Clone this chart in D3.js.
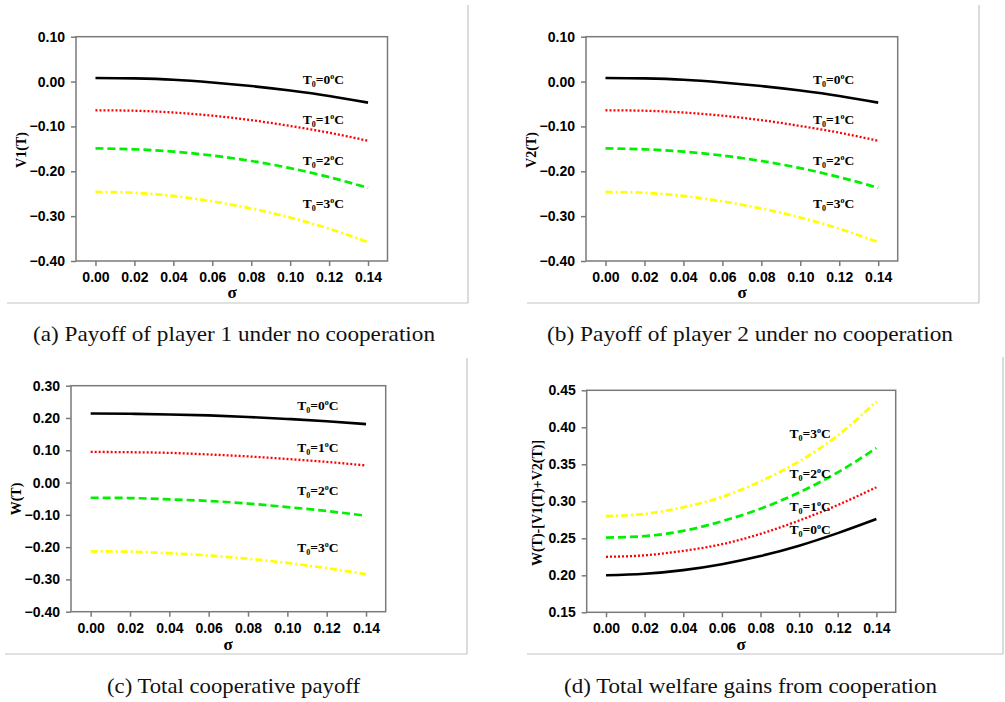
<!DOCTYPE html>
<html>
<head>
<meta charset="utf-8">
<script src="https://cdn.jsdelivr.net/npm/d3@7"></script>
<style>
  body { margin: 0; background: #fff; }
  svg { display: block; }
</style>
</head>
<body>
<div id="chart"></div>
<script>
// sigma values on the x axis
const sigma = [0, 0.02, 0.04, 0.06, 0.08, 0.10, 0.12, 0.14];
const xTicks = [0, 0.02, 0.04, 0.06, 0.08, 0.10, 0.12, 0.14];
const temps = ["0", "1", "2", "3"];

// (a) V1(T)
const v1T0 = [0.008, 0.007, 0.004, -0.002, -0.010, -0.020, -0.032, -0.047];
const v1T1 = [-0.064, -0.065, -0.069, -0.076, -0.086, -0.099, -0.114, -0.132];
const v1T2 = [-0.149, -0.151, -0.156, -0.165, -0.177, -0.193, -0.213, -0.237];
const v1T3 = [-0.246, -0.248, -0.255, -0.267, -0.283, -0.303, -0.328, -0.358];

// (b) V2(T)
const v2T0 = [0.008, 0.007, 0.004, -0.002, -0.010, -0.020, -0.032, -0.047];
const v2T1 = [-0.064, -0.065, -0.069, -0.076, -0.086, -0.099, -0.114, -0.132];
const v2T2 = [-0.149, -0.151, -0.156, -0.165, -0.177, -0.193, -0.213, -0.237];
const v2T3 = [-0.246, -0.248, -0.255, -0.267, -0.283, -0.303, -0.328, -0.358];

// (c) W(T)
const wT0 = [0.214, 0.213, 0.211, 0.208, 0.203, 0.197, 0.190, 0.181];
const wT1 = [0.095, 0.094, 0.092, 0.087, 0.081, 0.073, 0.064, 0.053];
const wT2 = [-0.047, -0.048, -0.052, -0.057, -0.065, -0.076, -0.088, -0.103];
const wT3 = [-0.213, -0.214, -0.219, -0.226, -0.236, -0.249, -0.265, -0.284];

// (d) W(T)-[V1(T)+V2(T)]
const gT0 = [0.200, 0.202, 0.207, 0.215, 0.226, 0.240, 0.257, 0.276];
const gT1 = [0.225, 0.227, 0.233, 0.242, 0.256, 0.274, 0.295, 0.319];
const gT2 = [0.251, 0.253, 0.260, 0.273, 0.290, 0.312, 0.339, 0.372];
const gT3 = [0.280, 0.283, 0.292, 0.306, 0.327, 0.354, 0.389, 0.435];

// y ticks
const yTicksV = [0.10, 0.00, -0.10, -0.20, -0.30, -0.40];
const yTicksW = [0.30, 0.20, 0.10, 0.00, -0.10, -0.20, -0.30, -0.40];
const yTicksG = [0.45, 0.40, 0.35, 0.30, 0.25, 0.20, 0.15];

// label anchors [sigma, value] for each T0 curve
const labelsV = [[0.1065, -0.005], [0.1065, -0.094], [0.1065, -0.187], [0.1065, -0.281]];
const labelsW = [[0.105, 0.225], [0.105, 0.096], [0.105, -0.038], [0.105, -0.214]];
const labelsG = [[0.095, 0.256], [0.095, 0.287], [0.095, 0.331], [0.095, 0.385]];

const captions = [
  "(a) Payoff of player 1 under no cooperation",
  "(b) Payoff of player 2 under no cooperation",
  "(c) Total cooperative payoff",
  "(d) Total welfare gains from cooperation"
];

// line styles per temperature
const lineStyles = [
  { color: "#000000", dash: null, width: 2.6 },
  { color: "#ff0000", dash: "2,2", width: 2.3 },
  { color: "#00f000", dash: "8,4", width: 2.7 },
  { color: "#ffff00", dash: "7,3,2,3", width: 2.7 }
];

const svg = d3.select("#chart").append("svg")
  .attr("width", 1005)
  .attr("height", 702);

const panels = [
  { series: [v1T0, v1T1, v1T2, v1T3], yTicks: yTicksV, labels: labelsV, yTitle: "V1(T)",
    box: { l: 76, r: 387.5, t: 36.7, b: 261 }, yTitlePos: [21, 150], sigmaPos: [232, 298],
    frame: { right: 468, top: 5, bottom: 303, left: 7 },
    caption: { x0: 33, x1: 435, y: 341 } },
  { series: [v2T0, v2T1, v2T2, v2T3], yTicks: yTicksV, labels: labelsV, yTitle: "V2(T)",
    box: { l: 586, r: 897.7, t: 36.7, b: 261 }, yTitlePos: [531, 150], sigmaPos: [742, 298],
    frame: { right: 979, top: 5, bottom: 303, left: 527 },
    caption: { x0: 547, x1: 953, y: 341 } },
  { series: [wT0, wT1, wT2, wT3], yTicks: yTicksW, labels: labelsW, yTitle: "W(T)",
    box: { l: 71, r: 385.7, t: 385.7, b: 611.7 }, yTitlePos: [16, 499], sigmaPos: [228, 650],
    frame: { right: 467, top: 358, bottom: 654, left: 5 },
    caption: { x0: 107, x1: 360, y: 693 } },
  { series: [gT0, gT1, gT2, gT3], yTicks: yTicksG, labels: labelsG, yTitle: "W(T)-[V1(T)+V2(T)]",
    box: { l: 586.7, r: 895.7, t: 390.3, b: 612.3 }, yTitlePos: [537, 503], sigmaPos: [741, 650],
    frame: { right: 1003, top: 357, bottom: 654, left: 527 },
    caption: { x0: 564, x1: 937, y: 693 } }
];

panels.forEach((p, pi) => {
  const g = svg.append("g");

  // outer light frame (right and bottom edges)
  g.append("line")
    .attr("x1", p.frame.right).attr("x2", p.frame.right)
    .attr("y1", p.frame.top).attr("y2", p.frame.bottom)
    .style("stroke", "#c4c4c4").style("stroke-width", 1.2);
  g.append("line")
    .attr("x1", p.frame.left).attr("x2", p.frame.right)
    .attr("y1", p.frame.bottom).attr("y2", p.frame.bottom)
    .style("stroke", "#c4c4c4").style("stroke-width", 1.2);

  const x = d3.scaleLinear().domain([-0.01, 0.15]).range([p.box.l, p.box.r]);
  const yExt = d3.extent(p.yTicks);
  const y = d3.scaleLinear().domain(yExt).range([p.box.b, p.box.t]);

  // plot frame
  g.append("rect")
    .attr("x", p.box.l).attr("y", p.box.t)
    .attr("width", p.box.r - p.box.l).attr("height", p.box.b - p.box.t)
    .style("fill", "none").style("stroke", "#7a7a7a").style("stroke-width", 1.5);

  // x axis
  const xAxis = g.append("g")
    .attr("transform", `translate(0,${p.box.b})`)
    .call(d3.axisBottom(x).tickValues(xTicks).tickFormat(d3.format(".2f")).tickSize(5).tickPadding(6));
  xAxis.select(".domain").remove();

  // y axis
  const yAxis = g.append("g")
    .attr("transform", `translate(${p.box.l},0)`)
    .call(d3.axisLeft(y).tickValues(p.yTicks).tickFormat(d3.format(".2f")).tickSize(5).tickPadding(6));
  yAxis.select(".domain").remove();

  g.selectAll(".tick line").style("stroke", "#7a7a7a").style("stroke-width", 1.5);
  g.selectAll(".tick text")
    .style("font-family", "'Liberation Sans', Arial, sans-serif")
    .style("font-weight", "bold")
    .style("font-size", "14px")
    .style("fill", "#000");

  // curves
  const line = d3.line()
    .x((d, i) => x(sigma[i]))
    .y(d => y(d))
    .curve(d3.curveMonotoneX);

  p.series.forEach((s, si) => {
    const st = lineStyles[si];
    g.append("path")
      .datum(s)
      .attr("d", line)
      .style("fill", "none")
      .style("stroke", st.color)
      .style("stroke-width", st.width)
      .style("stroke-dasharray", st.dash);
  });

  // curve labels T0=..°C
  p.labels.forEach((lb, li) => {
    const t = g.append("text")
      .attr("x", x(lb[0]))
      .attr("y", y(lb[1]))
      .style("font-family", "'Liberation Serif', 'Times New Roman', serif")
      .style("font-weight", "bold")
      .style("font-size", "13.5px")
      .style("fill", "#000");
    t.append("tspan").text("T");
    t.append("tspan").attr("dy", 3).style("font-size", "8px").text("0");
    t.append("tspan").attr("dy", -3).text("=" + temps[li]);
    t.append("tspan").attr("dy", -5).style("font-size", "8px").text("o");
    t.append("tspan").attr("dy", 5).text("C");
  });

  // y title
  g.append("text")
    .attr("transform", `translate(${p.yTitlePos[0]},${p.yTitlePos[1]}) rotate(-90)`)
    .attr("text-anchor", "middle")
    .attr("dominant-baseline", "central")
    .style("font-family", "'Liberation Serif', 'Times New Roman', serif")
    .style("font-weight", "bold")
    .style("font-size", "14px")
    .text(p.yTitle);

  // x title
  g.append("text")
    .attr("x", p.sigmaPos[0])
    .attr("y", p.sigmaPos[1])
    .attr("text-anchor", "middle")
    .style("font-family", "'Liberation Serif', 'Times New Roman', serif")
    .style("font-weight", "bold")
    .style("font-size", "17px")
    .text("σ");

  // caption
  g.append("text")
    .attr("x", p.caption.x0)
    .attr("y", p.caption.y)
    .attr("textLength", p.caption.x1 - p.caption.x0)
    .attr("lengthAdjust", "spacingAndGlyphs")
    .style("font-family", "'Liberation Serif', 'Times New Roman', serif")
    .style("font-size", "21px")
    .style("fill", "#111")
    .text(captions[pi]);
});
</script>
</body>
</html>
